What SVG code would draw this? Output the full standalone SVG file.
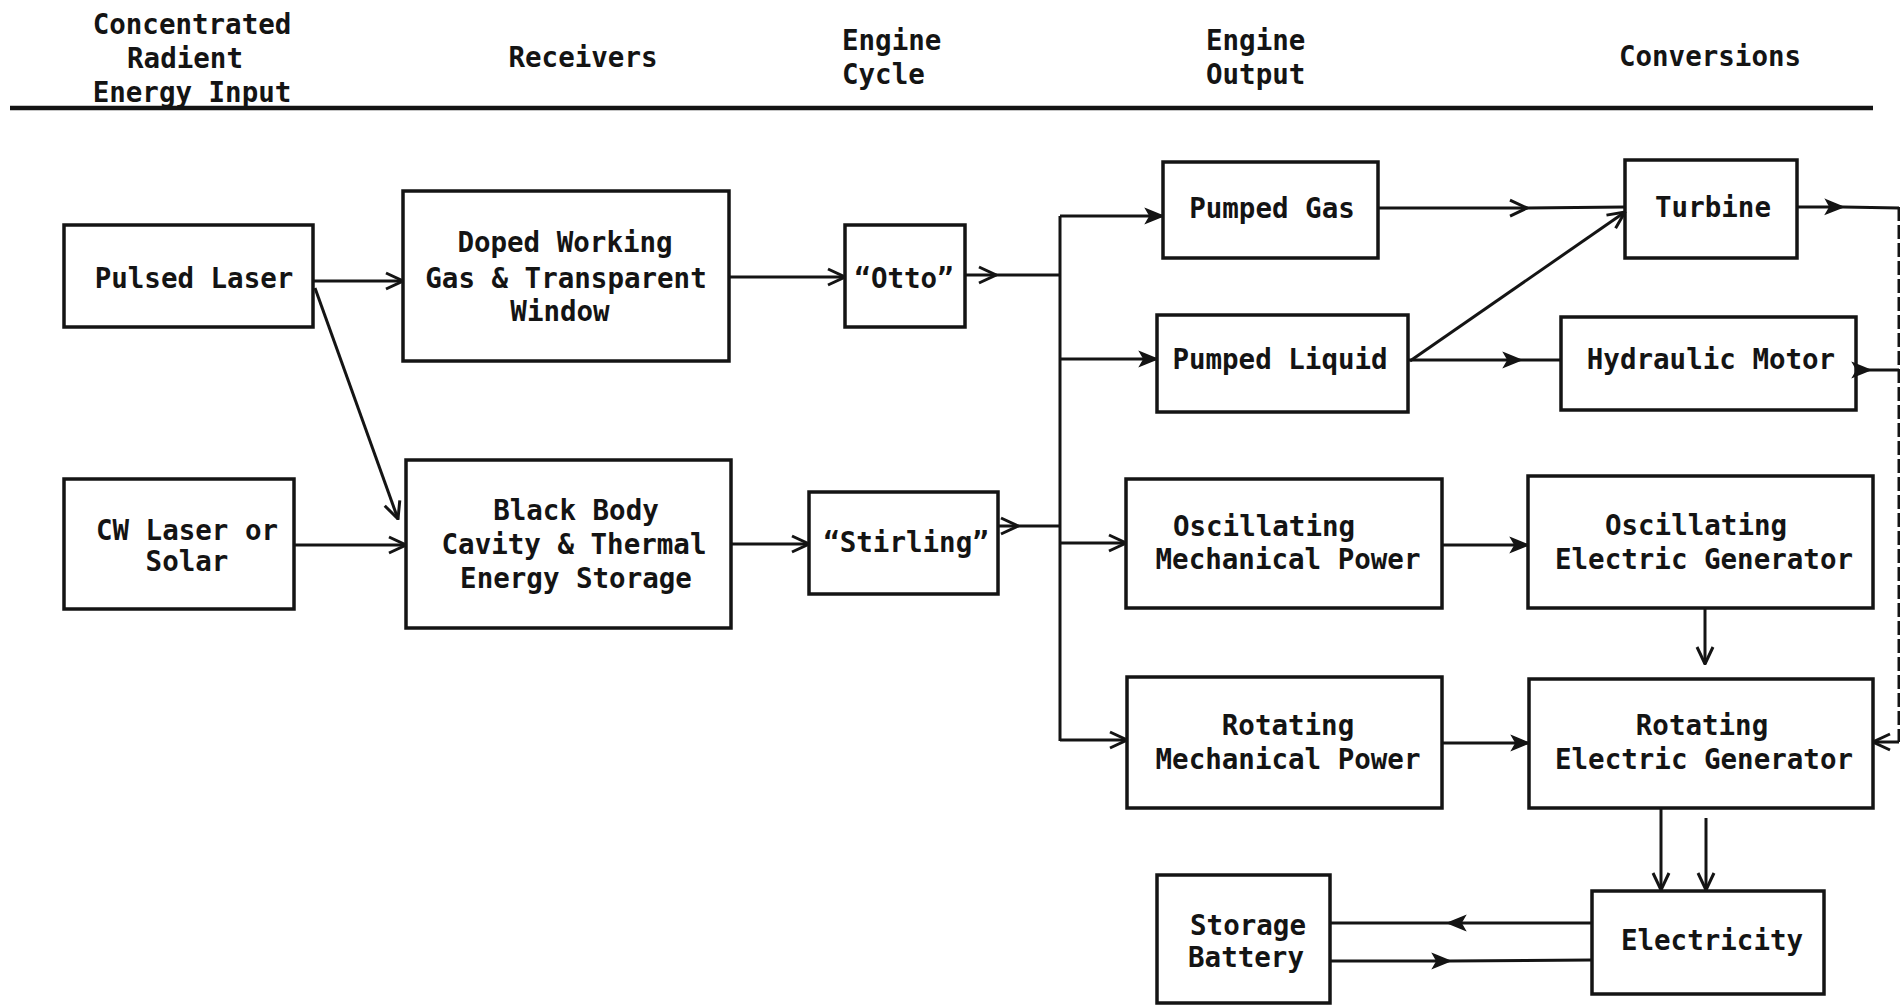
<svg xmlns="http://www.w3.org/2000/svg" width="1900" height="1005" viewBox="0 0 1900 1005">
<style>
.box{fill:none;stroke:#141414;stroke-width:3.5}
.c{fill:none;stroke:#141414;stroke-width:3}
.t{font-family:"DejaVu Sans Mono","Liberation Mono",monospace;font-size:27.5px;font-weight:bold;fill:#141414;text-anchor:middle}
.h{font-family:"DejaVu Sans Mono","Liberation Mono",monospace;font-size:27.5px;font-weight:bold;fill:#141414}
</style>
<defs>
<marker id="a" viewBox="0 0 20 20" refX="19" refY="10" markerWidth="20" markerHeight="20" markerUnits="userSpaceOnUse" orient="auto">
<path d="M2,2 L19,10 L2,18" fill="none" stroke="#141414" stroke-width="3"/>
</marker>
<marker id="f" viewBox="0 0 20 20" refX="19" refY="10" markerWidth="20" markerHeight="20" markerUnits="userSpaceOnUse" orient="auto">
<path d="M2,3 L19,10 L2,17 L6,10 Z" fill="#141414" stroke="#141414" stroke-width="1.5"/>
</marker>
</defs>
<rect width="1900" height="1005" fill="#ffffff"/>

<g id="header">
<text class="t" x="192" y="34">Concentrated</text>
<text class="t" x="185" y="68">Radient</text>
<text class="t" x="192" y="102">Energy Input</text>
<text class="t" x="583" y="67">Receivers</text>
<text class="h" x="842" y="50">Engine</text>
<text class="h" x="842" y="84">Cycle</text>
<text class="h" x="1206" y="50">Engine</text>
<text class="h" x="1206" y="84">Output</text>
<text class="t" x="1710" y="66">Conversions</text>
<line x1="10" y1="108" x2="1873" y2="108" stroke="#141414" stroke-width="4.5"/>
</g>

<g id="connectors">
<path class="c" d="M313,281 L403,281" marker-end="url(#a)"/>
<path class="c" d="M315,288 L398,519" marker-end="url(#a)"/>
<path class="c" d="M294,545 L406,545" marker-end="url(#a)"/>
<path class="c" d="M729,277 L845,277" marker-end="url(#a)"/>
<path class="c" d="M731,544 L809,544" marker-end="url(#a)"/>
<path class="c" d="M965,275 L996,275 L1060,275" marker-mid="url(#a)"/>
<path class="c" d="M998,526 L1018,526 L1060,526" marker-mid="url(#a)"/>
<path class="c" d="M1060,216 L1060,741"/>
<path class="c" d="M1060,216 L1163,216" marker-end="url(#f)"/>
<path class="c" d="M1060,359 L1157,359" marker-end="url(#f)"/>
<path class="c" d="M1060,543 L1126,543" marker-end="url(#a)"/>
<path class="c" d="M1060,740 L1127,740" marker-end="url(#a)"/>
<path class="c" d="M1378,208 L1527,208 L1625,207" marker-mid="url(#a)"/>
<path class="c" d="M1410,361 L1625,212" marker-end="url(#a)"/>
<path class="c" d="M1408,360 L1521,360 L1561,360" marker-mid="url(#f)"/>
<path class="c" d="M1797,207 L1843,207 L1899,208" marker-mid="url(#f)"/>
<path class="c" d="M1856,370 L1870,370 L1899,370" marker-mid="url(#f)"/>
<path class="c" d="M1899,207 L1899,742" stroke-width="1.5" stroke-dasharray="14 4"/>
<path class="c" d="M1899,742 L1873,742" stroke-width="2" marker-end="url(#a)"/>
<path class="c" d="M1442,545 L1528,545" marker-end="url(#f)"/>
<path class="c" d="M1442,743 L1529,743" marker-end="url(#f)"/>
<path class="c" d="M1705,608 L1705,664" stroke-width="2" marker-end="url(#a)"/>
<path class="c" d="M1661,808 L1661,890" stroke-width="2.5" marker-end="url(#a)"/>
<path class="c" d="M1706,818 L1706,890" stroke-width="2.5" marker-end="url(#a)"/>
<path class="c" d="M1592,923 L1448,923 L1330,923" marker-mid="url(#f)"/>
<path class="c" d="M1330,961 L1450,961 L1592,960" marker-mid="url(#f)"/>
</g>

<g id="pulsed-laser"><rect class="box" x="64" y="225" width="249" height="102"/><text class="t" x="194" y="288">Pulsed Laser</text></g>
<g id="cw-laser"><rect class="box" x="64" y="479" width="230" height="130"/><text class="t" x="187" y="540">CW Laser or</text><text class="t" x="187" y="571">Solar</text></g>
<g id="doped"><rect class="box" x="403" y="191" width="326" height="170"/><text class="t" x="565" y="252">Doped Working</text><text class="t" x="566" y="288">Gas &amp; Transparent</text><text class="t" x="560" y="321">Window</text></g>
<g id="blackbody"><rect class="box" x="406" y="460" width="325" height="168"/><text class="t" x="576" y="520">Black Body</text><text class="t" x="574" y="554">Cavity &amp; Thermal</text><text class="t" x="576" y="588">Energy Storage</text></g>
<g id="otto"><rect class="box" x="845" y="225" width="120" height="102"/><text class="t" x="904" y="288">“Otto”</text></g>
<g id="stirling"><rect class="box" x="809" y="492" width="189" height="102"/><text class="t" x="906" y="552">“Stirling”</text></g>
<g id="pumped-gas"><rect class="box" x="1163" y="162" width="215" height="96"/><text class="t" x="1272" y="218">Pumped Gas</text></g>
<g id="pumped-liquid"><rect class="box" x="1157" y="315" width="251" height="97"/><text class="t" x="1280" y="369">Pumped Liquid</text></g>
<g id="osc-mech"><rect class="box" x="1126" y="479" width="316" height="129"/><text class="t" x="1264" y="536">Oscillating</text><text class="t" x="1288" y="569">Mechanical Power</text></g>
<g id="rot-mech"><rect class="box" x="1127" y="677" width="315" height="131"/><text class="t" x="1288" y="735">Rotating</text><text class="t" x="1288" y="769">Mechanical Power</text></g>
<g id="turbine"><rect class="box" x="1625" y="160" width="172" height="98"/><text class="t" x="1713" y="217">Turbine</text></g>
<g id="hydraulic"><rect class="box" x="1561" y="317" width="295" height="93"/><text class="t" x="1711" y="369">Hydraulic Motor</text></g>
<g id="osc-gen"><rect class="box" x="1528" y="476" width="345" height="132"/><text class="t" x="1696" y="535">Oscillating</text><text class="t" x="1704" y="569">Electric Generator</text></g>
<g id="rot-gen"><rect class="box" x="1529" y="679" width="344" height="129"/><text class="t" x="1702" y="735">Rotating</text><text class="t" x="1704" y="769">Electric Generator</text></g>
<g id="storage"><rect class="box" x="1157" y="875" width="173" height="128"/><text class="t" x="1248" y="935">Storage</text><text class="t" x="1246" y="967">Battery</text></g>
<g id="electricity"><rect class="box" x="1592" y="891" width="232" height="103"/><text class="t" x="1712" y="950">Electricity</text></g>
</svg>
